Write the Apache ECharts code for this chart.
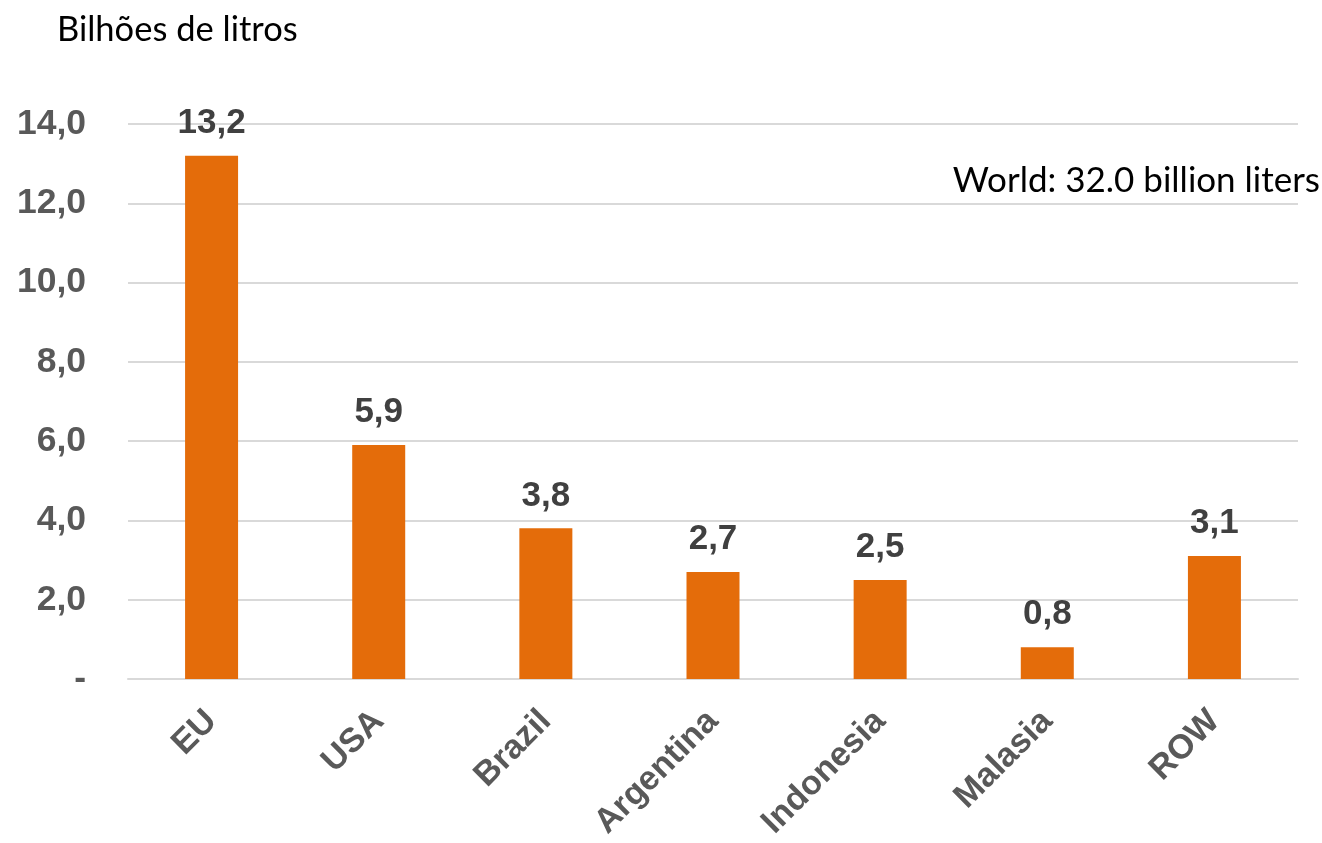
<!DOCTYPE html>
<html>
<head>
<meta charset="utf-8">
<title>Biodiesel production</title>
<script src="https://cdn.jsdelivr.net/npm/echarts@6/dist/echarts.min.js"></script>
<style>
  html, body { margin: 0; padding: 0; background: #ffffff; }
  #chart { width: 1322px; height: 843px; }
</style>
</head>
<body>
<div id="chart"></div>
<script>
// Production by region, billions of litres
const regions = ['EU', 'USA', 'Brazil', 'Argentina', 'Indonesia', 'Malasia', 'ROW'];
const volumes = [13.2, 5.9, 3.8, 2.7, 2.5, 0.8, 3.1];
const yTicks = [0, 2, 4, 6, 8, 10, 12, 14];
const unitLabel = 'Bilhões de litros';
const worldNote = 'World: 32.0 billion liters';

const fmt = v => v.toFixed(1).replace('.', ',');

const chart = echarts.init(document.getElementById('chart'), null, { renderer: 'canvas' });

chart.setOption({
  backgroundColor: '#ffffff',
  animation: false,
  grid: { left: 128, right: 24, top: 124, bottom: 164, containLabel: false },
  title: {
    text: unitLabel,
    left: 52,
    top: 7,
    textStyle: { fontFamily: 'Lato', fontWeight: 'normal', fontSize: 34.5, color: '#000000' }
  },
  graphic: [{
    type: 'text',
    right: 2,
    top: 163,
    style: {
      text: worldNote,
      fontFamily: 'Lato',
      fontSize: 35,
      fill: '#000000'
    }
  }],
  xAxis: {
    type: 'category',
    data: regions,
    axisLine: { show: true, lineStyle: { color: '#d9d9d9', width: 2 } },
    axisTick: { show: false },
    axisLabel: {
      rotate: 45,
      margin: 37,
      interval: 0,
      fontFamily: 'Liberation Sans',
      fontWeight: 'bold',
      fontSize: 34,
      color: '#595959'
    }
  },
  yAxis: {
    type: 'value',
    min: yTicks[0],
    max: yTicks[yTicks.length - 1],
    interval: 2,
    axisLine: { show: false },
    axisTick: { show: false },
    splitLine: { lineStyle: { color: '#d9d9d9', width: 2 } },
    axisLabel: {
      margin: 42,
      fontFamily: 'Liberation Sans',
      fontWeight: 'bold',
      fontSize: 35.5,
      color: '#595959',
      formatter: v => (v === 0 ? '-' : fmt(v))
    }
  },
  series: [{
    type: 'bar',
    data: volumes,
    barWidth: 53,
    itemStyle: { color: '#E46C0A' },
    label: {
      show: true,
      position: 'top',
      distance: 15,
      fontFamily: 'Liberation Sans',
      fontWeight: 'bold',
      fontSize: 35,
      color: '#404040',
      formatter: p => fmt(p.value)
    }
  }]
});
</script>
</body>
</html>
